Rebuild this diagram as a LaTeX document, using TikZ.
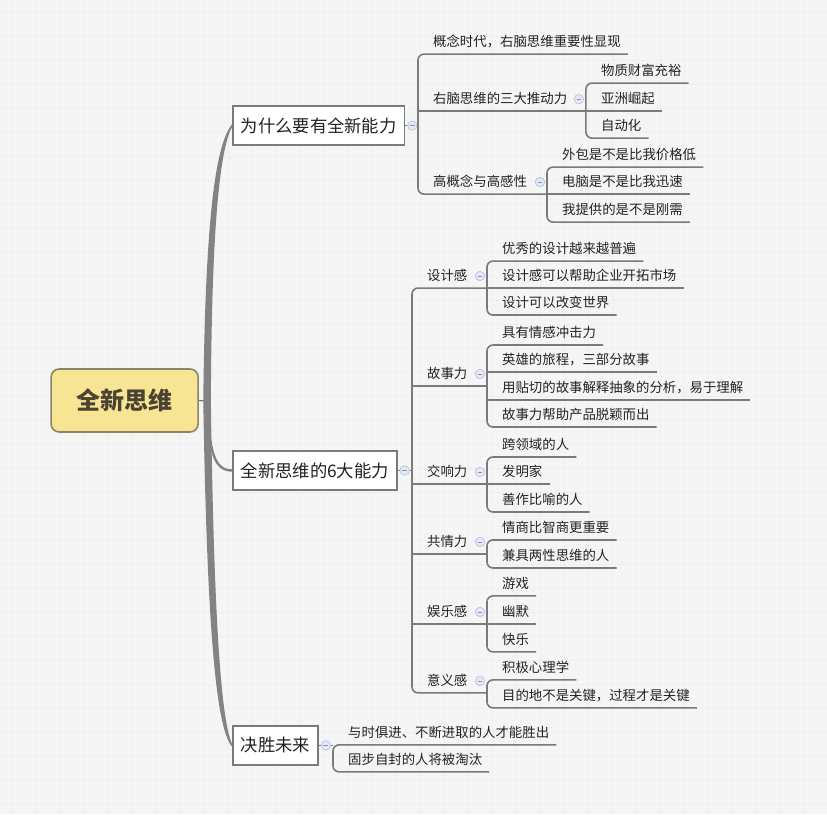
\documentclass[tikz,border=0pt]{standalone}
\usepackage{fontspec}
\setmainfont{Noto Sans CJK SC}
\usetikzlibrary{calc}
\definecolor{bgc}{HTML}{F5F5F5}
\definecolor{gridc}{HTML}{EFEFEF}
\definecolor{linec}{HTML}{7A7A7A}
\definecolor{trunkc}{HTML}{838383}
\definecolor{txt}{HTML}{222222}
\definecolor{cfill}{HTML}{F7E594}
\definecolor{cborder}{HTML}{8C8466}
\definecolor{ctext}{HTML}{4B4232}
\definecolor{mfill}{HTML}{E4E9F5}
\definecolor{mdraw}{HTML}{B3BFDA}
\definecolor{mminus}{HTML}{8594B8}
\pgfdeclarelayer{bglayer}
\pgfsetlayers{bglayer,main}
\begin{document}
\begin{tikzpicture}[x=1pt,y=-1pt,
  leaf/.style={anchor=south west, inner xsep=7pt, inner ysep=0pt, text depth=7pt,
    font=\fontsize{13.4}{16}\selectfont, text=txt},
  topic/.style={draw=linec, line width=1.6pt, fill=white, anchor=west, inner xsep=8pt,
    minimum height=39pt, font=\fontsize{17.3}{20}\selectfont, text=txt},
  central/.style={draw=cborder, line width=1.6pt, fill=cfill, rounded corners=8pt,
    minimum width=147pt, minimum height=63pt, font=\fontsize{24}{28}\selectfont\bfseries, text=ctext},
  conn/.style={draw=linec, line width=1.6pt, rounded corners=6pt},
  marker/.style={circle, draw=mdraw, fill=mfill, line width=0.6pt, minimum size=9.5pt, inner sep=0pt,
    path picture={\draw[mminus, line width=0.7pt]
      ($(path picture bounding box.center)+(-2.4,0)$) -- ($(path picture bounding box.center)+(2.4,0)$);}},
]
\begin{pgfonlayer}{bglayer}
\fill[bgc] (0,0) rectangle (827,814);
\foreach \i in {12,36,...,827} \draw[gridc, line width=0.3pt] (\i,0) -- (\i,814);
\foreach \j in {12,36,...,814} \draw[gridc, line width=0.3pt] (0,\j) -- (827,\j);
\end{pgfonlayer}
\useasboundingbox (0,0) rectangle (827,814);

% vertical line positions
\coordinate (vA) at (418,0);
\coordinate (vA2) at (586,0);
\coordinate (vA3) at (547,0);
\coordinate (vB) at (412,0);
\coordinate (vBc) at (487,0);
\coordinate (vC) at (333,0);
\coordinate (hub) at (207,401);

% central and main topics
\node[central] (root) at (124.5,400.5) {全新思维};
\node[topic] (why) at (232,125.5) {为什么要有全新能力};
\node[topic] (six) at (232,470.5) {全新思维的6大能力};
\node[topic] (win) at (232,745.5) {决胜未来};
\node[marker] (mwhy) at ($(why.east)+(7,0)$) {};
\node[marker] (msix) at ($(six.east)+(7,0)$) {};
\node[marker] (mwin) at ($(win.east)+(7,0)$) {};

% group A
\node[leaf] (a1) at (426,54) {概念时代，右脑思维重要性显现};
\node[leaf] (a2) at (426,111) {右脑思维的三大推动力};
\node[leaf] (a3) at (426,194) {高概念与高感性};
\node[marker] (ma2) at (579,99) {};
\node[marker] (ma3) at (540,182) {};
\node[leaf] (a21) at (594,83) {物质财富充裕};
\node[leaf] (a22) at (594,111) {亚洲崛起};
\node[leaf] (a23) at (594,138) {自动化};
\node[leaf] (a31) at (555,167) {外包是不是比我价格低};
\node[leaf] (a32) at (555,194) {电脑是不是比我迅速};
\node[leaf] (a33) at (555,222) {我提供的是不是刚需};

% group B
\node[leaf] (b1) at (420,288) {设计感};
\node[leaf] (b2) at (420,386) {故事力};
\node[leaf] (b3) at (420,484) {交响力};
\node[leaf] (b4) at (420,554) {共情力};
\node[leaf] (b5) at (420,624) {娱乐感};
\node[leaf] (b6) at (420,693) {意义感};
\foreach \b in {b1,b2,b3,b4,b5,b6} \node[marker] (m\b) at ($(vBc |- \b.south)+(-7,-12)$) {};
\node[leaf] (b11) at (495,261) {优秀的设计越来越普遍};
\node[leaf] (b12) at (495,288) {设计感可以帮助企业开拓市场};
\node[leaf] (b13) at (495,315) {设计可以改变世界};
\node[leaf] (b21) at (495,345) {具有情感冲击力};
\node[leaf] (b22) at (495,372) {英雄的旅程，三部分故事};
\node[leaf] (b23) at (495,400) {用贴切的故事解释抽象的分析，易于理解};
\node[leaf] (b24) at (495,427) {故事力帮助产品脱颖而出};
\node[leaf] (b31) at (495,457) {跨领域的人};
\node[leaf] (b32) at (495,484) {发明家};
\node[leaf] (b33) at (495,512) {善作比喻的人};
\node[leaf] (b41) at (495,540) {情商比智商更重要};
\node[leaf] (b42) at (495,568) {兼具两性思维的人};
\node[leaf] (b51) at (495,596) {游戏};
\node[leaf] (b52) at (495,624) {幽默};
\node[leaf] (b53) at (495,652) {快乐};
\node[leaf] (b61) at (495,680) {积极心理学};
\node[leaf] (b62) at (495,708) {目的地不是关键，过程才是关键};

% group C
\node[leaf] (c1) at (341,745) {与时俱进、不断进取的人才能胜出};
\node[leaf] (c2) at (341,772) {固步自封的人将被淘汰};

\begin{pgfonlayer}{bglayer}
% trunk
\draw[linec, line width=1.3pt] (root.east) -- (hub);
\fill[trunkc] ($(hub)+(-3.8,0)$) .. controls (205,240) and (213,147) .. ($(why.west)+(0,-1.3)$)
  -- ($(why.west)+(0,1.3)$) .. controls (218.5,152) and (211.5,240) .. ($(hub)+(3.8,0)$) -- cycle;
\fill[trunkc] ($(hub)+(-3.8,0)$) .. controls (206.5,600) and (214,727) .. ($(win.west)+(0,1.3)$)
  -- ($(win.west)+(0,-1.3)$) .. controls (220,718) and (213.5,600) .. ($(hub)+(3.8,0)$) -- cycle;
\draw[trunkc, line width=2.4pt] (hub) .. controls (209,452) and (214,470.5) .. (six.west);

% main topic to markers
\draw[conn] (why.east) -- (mwhy.west);
\draw[conn] (mwhy.east) -- (vA |- mwhy.east);
\draw[conn] (six.east) -- (msix.west);
\draw[conn] (msix.east) -- (vB |- msix.east);
\draw[conn] (win.east) -- (mwin.west);
\draw[conn] (mwin.east) -- (vC |- mwin.east);

% group A
\draw[conn] (a1.south east) -- (vA |- a1.south) -- (vA |- a3.south) -- (vA3 |- a3.south);
\draw[conn] (vA |- a2.south) -- (vA2 |- a2.south);
\draw[conn] (a21.south east) -- (vA2 |- a21.south) -- (vA2 |- a23.south) -- (a23.south east);
\draw[conn] (vA2 |- a22.south) -- (a22.south east);
\draw[conn] (a31.south east) -- (vA3 |- a31.south) -- (vA3 |- a33.south) -- (a33.south east);
\draw[conn] (vA3 |- a32.south) -- (a32.south east);

% group B
\draw[conn] (vBc |- b1.south) -- (vB |- b1.south) -- (vB |- b6.south) -- (vBc |- b6.south);
\foreach \b in {b2,b3,b4,b5} \draw[conn] (vB |- \b.south) -- (vBc |- \b.south);
\draw[conn] (b11.south east) -- (vBc |- b11.south) -- (vBc |- b13.south) -- (b13.south east);
\draw[conn] (vBc |- b12.south) -- (b12.south east);
\draw[conn] (b21.south east) -- (vBc |- b21.south) -- (vBc |- b24.south) -- (b24.south east);
\draw[conn] (vBc |- b22.south) -- (b22.south east);
\draw[conn] (vBc |- b23.south) -- (b23.south east);
\draw[conn] (b31.south east) -- (vBc |- b31.south) -- (vBc |- b33.south) -- (b33.south east);
\draw[conn] (vBc |- b32.south) -- (b32.south east);
\draw[conn] (b41.south east) -- (vBc |- b41.south) -- (vBc |- b42.south) -- (b42.south east);
\draw[conn] (b51.south east) -- (vBc |- b51.south) -- (vBc |- b53.south) -- (b53.south east);
\draw[conn] (vBc |- b52.south) -- (b52.south east);
\draw[conn] (b61.south east) -- (vBc |- b61.south) -- (vBc |- b62.south) -- (b62.south east);

% group C
\draw[conn] (c1.south east) -- (vC |- c1.south) -- (vC |- c2.south) -- (c2.south east);
\end{pgfonlayer}
\end{tikzpicture}
\end{document}
